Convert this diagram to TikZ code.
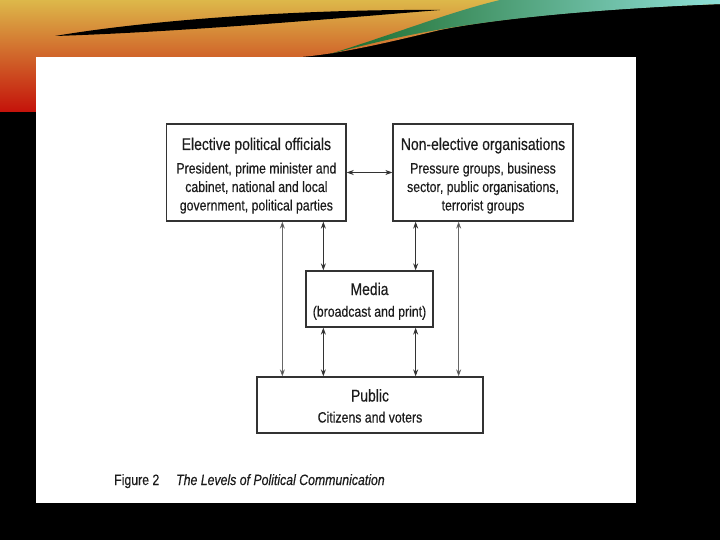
\documentclass[tikz,border=0pt]{standalone}
\usepackage{fontspec}
\setmainfont{Liberation Sans}[FakeStretch=0.82,FakeBold=0.35]
\usetikzlibrary{arrows.meta}
\definecolor{txtc}{HTML}{1C1C1C}
\definecolor{linec}{HTML}{333333}
\definecolor{arrc}{HTML}{333333}
\definecolor{arrlc}{HTML}{666666}
\definecolor{swy}{HTML}{DDB84A}
\definecolor{swo}{HTML}{E08A22}
\definecolor{swr}{HTML}{C4120A}
\definecolor{swg}{HTML}{1A6A28}
\definecolor{swc}{HTML}{8FE0D8}
\newcommand\ttlfnt{\fontsize{17}{20}\selectfont}
\newcommand\bdyfnt{\fontsize{15}{18}\selectfont}
\begin{document}
\begin{tikzpicture}[x=1pt,y=-1pt,
  box/.style={draw=linec, line width=1.3pt, fill=white, inner sep=0pt},
  ttl/.style={font=\ttlfnt, text=txtc, anchor=base, inner sep=0pt},
  bdy/.style={font=\bdyfnt, text=txtc, anchor=base, inner sep=0pt},
  arr/.style={draw=arrc, line width=0.8pt, {Stealth[length=7pt,width=5pt]}-{Stealth[length=7pt,width=5pt]}},
  arrl/.style={draw=arrlc, line width=0.7pt, {Stealth[length=7pt,width=5pt,fill=arrc]}-{Stealth[length=7pt,width=5pt,fill=arrc]}}]
\useasboundingbox (0,0) rectangle (720,540);
\fill[black] (0,0) rectangle (720,540);
% colourful swoosh
\shade[top color=swy, middle color=swo, bottom color=swr]
  (0,0) -- (720,0) -- (720,4) .. controls (600,8) and (500,18) .. (440,30)
  .. controls (390,42) and (340,54) .. (300,57) -- (36,57) -- (36,112) -- (0,112) -- cycle;
\fill[black] (55,36) .. controls (150,20) and (300,9) .. (440,10)
  .. controls (330,19) and (180,32) .. (55,36) -- cycle;
\shade[left color=swg, right color=swc]
  (330,54) .. controls (400,36) and (480,14) .. (720,4) -- (720,0) -- (500,0)
  .. controls (450,12) and (400,32) .. (330,54) -- cycle;
% white panel
\fill[white] (36,57) rectangle (636,503);
% boxes
\node[box, minimum width=179.3, minimum height=97] (e) at (256.4,172.5) {};
\node[box, minimum width=180, minimum height=97] (n) at (483,172.5) {};
\node[box, minimum width=127, minimum height=56] (m) at (369.5,299) {};
\node[box, minimum width=226, minimum height=56] (p) at (370,405) {};
% texts
\node[ttl] (et) at (e.center |- 0,150) {Elective political officials};
\node[bdy] (e1) at (e.center |- 0,173.5) {President, prime minister and};
\node[bdy] (e2) at (e.center |- 0,192) {cabinet, national and local};
\node[bdy] (e3) at (e.center |- 0,210.5) {government, political parties};
\node[ttl] (nt) at (n.center |- 0,150) {Non-elective organisations};
\node[bdy] (n1) at (n.center |- 0,173.5) {Pressure groups, business};
\node[bdy] (n2) at (n.center |- 0,192) {sector, public organisations,};
\node[bdy] (n3) at (n.center |- 0,210.5) {terrorist groups};
\node[ttl] (mt) at (m.center |- 0,295) {Media};
\node[bdy] (m1) at (m.center |- 0,316.7) {(broadcast and print)};
\node[ttl] (pt) at (p.center |- 0,401.5) {Public};
\node[bdy] (p1) at (p.center |- 0,422.5) {Citizens and voters};
\node[bdy, anchor=base west] (cap1) at (114,485) {Figure 2};
\node[bdy, anchor=base west] (cap2) at (176,485) {\itshape The Levels of Political Communication};
% connectors
\draw[arr] (e.east) -- (n.west);
\coordinate (c1) at ([xshift=18]m.north west);
\coordinate (c2) at ([xshift=-18]m.north east);
\coordinate (c3) at ([xshift=18]m.south west);
\coordinate (c4) at ([xshift=-18]m.south east);
\coordinate (c5) at ([xshift=26]p.north west);
\coordinate (c6) at ([xshift=-25]p.north east);
\draw[arr] (e.south -| c1) -- (c1);
\draw[arr] (n.south -| c2) -- (c2);
\draw[arr] (c3) -- (p.north -| c3);
\draw[arr] (c4) -- (p.north -| c4);
\draw[arrl] (e.south -| c5) -- (c5);
\draw[arrl] (n.south -| c6) -- (c6);
\end{tikzpicture}
\end{document}
